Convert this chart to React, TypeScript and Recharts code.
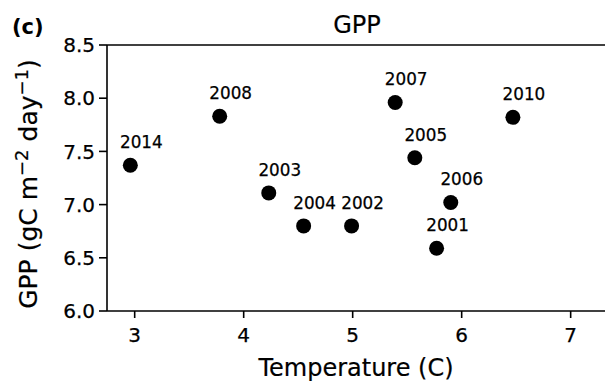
import React from "react";
import {
  ReferenceLine,
  Scatter,
  ScatterChart,
  XAxis,
  YAxis,
} from "recharts";

const years = ["2014", "2008", "2003", "2004", "2002", "2007", "2010", "2005", "2006", "2001"];
const temperature = [2.96, 3.78, 4.23, 4.55, 4.99, 5.39, 6.47, 5.57, 5.9, 5.77];
const gpp = [7.37, 7.83, 7.11, 6.8, 6.8, 7.96, 7.82, 7.44, 7.02, 6.59];

const xTicks = [3, 4, 5, 6, 7];
const yTicks = [6.0, 6.5, 7.0, 7.5, 8.0, 8.5];

const points = years.map((year, i) => ({
  year,
  temp: temperature[i],
  gpp: gpp[i],
}));

const FONT = "DejaVu Sans";

const YearDot = (props: any) => {
  const { cx, cy, payload } = props;
  return (
    <g>
      <circle cx={cx} cy={cy} r={7.5} fill="#000" />
      <text
        x={cx + 11}
        y={cy - 17}
        textAnchor="middle"
        fontFamily={FONT}
        fontSize={16.8}
        fill="#000"
        stroke="#000"
        strokeWidth={0.25}
      >
        {payload.year}
      </text>
    </g>
  );
};

const XLabel = (props: any) => {
  const { x, y, width } = props.viewBox;
  return (
    <text
      x={x + width / 2}
      y={y + 65}
      textAnchor="middle"
      fontFamily={FONT}
      fontSize={24}
      fill="#000"
      stroke="#000"
      strokeWidth={0.2}
    >
      Temperature (C)
    </text>
  );
};

const YLabel = (props: any) => {
  const { y, height } = props.viewBox;
  const cx = 37;
  const cy = y + height / 2 + 6;
  return (
    <text
      x={cx}
      y={cy}
      transform={`rotate(-90 ${cx} ${cy})`}
      textAnchor="middle"
      fontFamily={FONT}
      fontSize={25}
      fill="#000"
      stroke="#000"
      strokeWidth={0.2}
    >
      GPP (gC m
      <tspan dy={-9} fontSize={18}>
        −2
      </tspan>
      <tspan dy={9}> day</tspan>
      <tspan dy={-9} fontSize={18}>
        −1
      </tspan>
      <tspan dy={9}>)</tspan>
    </text>
  );
};

const tickStyle = {
  fontSize: 20,
  fill: "#000",
  fontFamily: FONT,
  stroke: "#000",
  strokeWidth: 0.25,
};

export default function App() {
  return (
    <div
      style={{
        position: "absolute",
        left: 0,
        top: 0,
        width: 605,
        height: 381,
        overflow: "hidden",
        background: "#fff",
      }}
    >
      <ScatterChart
        width={605}
        height={381}
        margin={{ top: 45, right: 0, bottom: 0, left: 0 }}
      >
        <XAxis
          type="number"
          dataKey="temp"
          domain={[2.746, 7.315]}
          allowDataOverflow
          ticks={xTicks}
          height={70}
          tickSize={7}
          tickMargin={10}
          stroke="#000"
          strokeWidth={1.6}
          tick={tickStyle}
          label={<XLabel />}
        />
        <YAxis
          type="number"
          dataKey="gpp"
          domain={[6.0, 8.5]}
          allowDataOverflow
          ticks={yTicks}
          width={107}
          tickSize={8}
          tickMargin={4}
          stroke="#000"
          strokeWidth={1.6}
          tickFormatter={(v: number) => v.toFixed(1)}
          tick={tickStyle}
          label={<YLabel />}
        />
        <ReferenceLine y={8.5} stroke="#000" strokeWidth={1.6} />
        <Scatter data={points} shape={<YearDot />} isAnimationActive={false} />
      </ScatterChart>
      <svg
        width={605}
        height={381}
        style={{ position: "absolute", left: 0, top: 0, pointerEvents: "none" }}
      >
        <text x={12} y={34} fontFamily={FONT} fontWeight="bold" fontSize={21} fill="#000">
          (c)
        </text>
        <text
          x={357}
          y={33}
          textAnchor="middle"
          fontFamily={FONT}
          fontSize={24}
          fill="#000"
          stroke="#000"
          strokeWidth={0.2}
        >
          GPP
        </text>
      </svg>
    </div>
  );
}
